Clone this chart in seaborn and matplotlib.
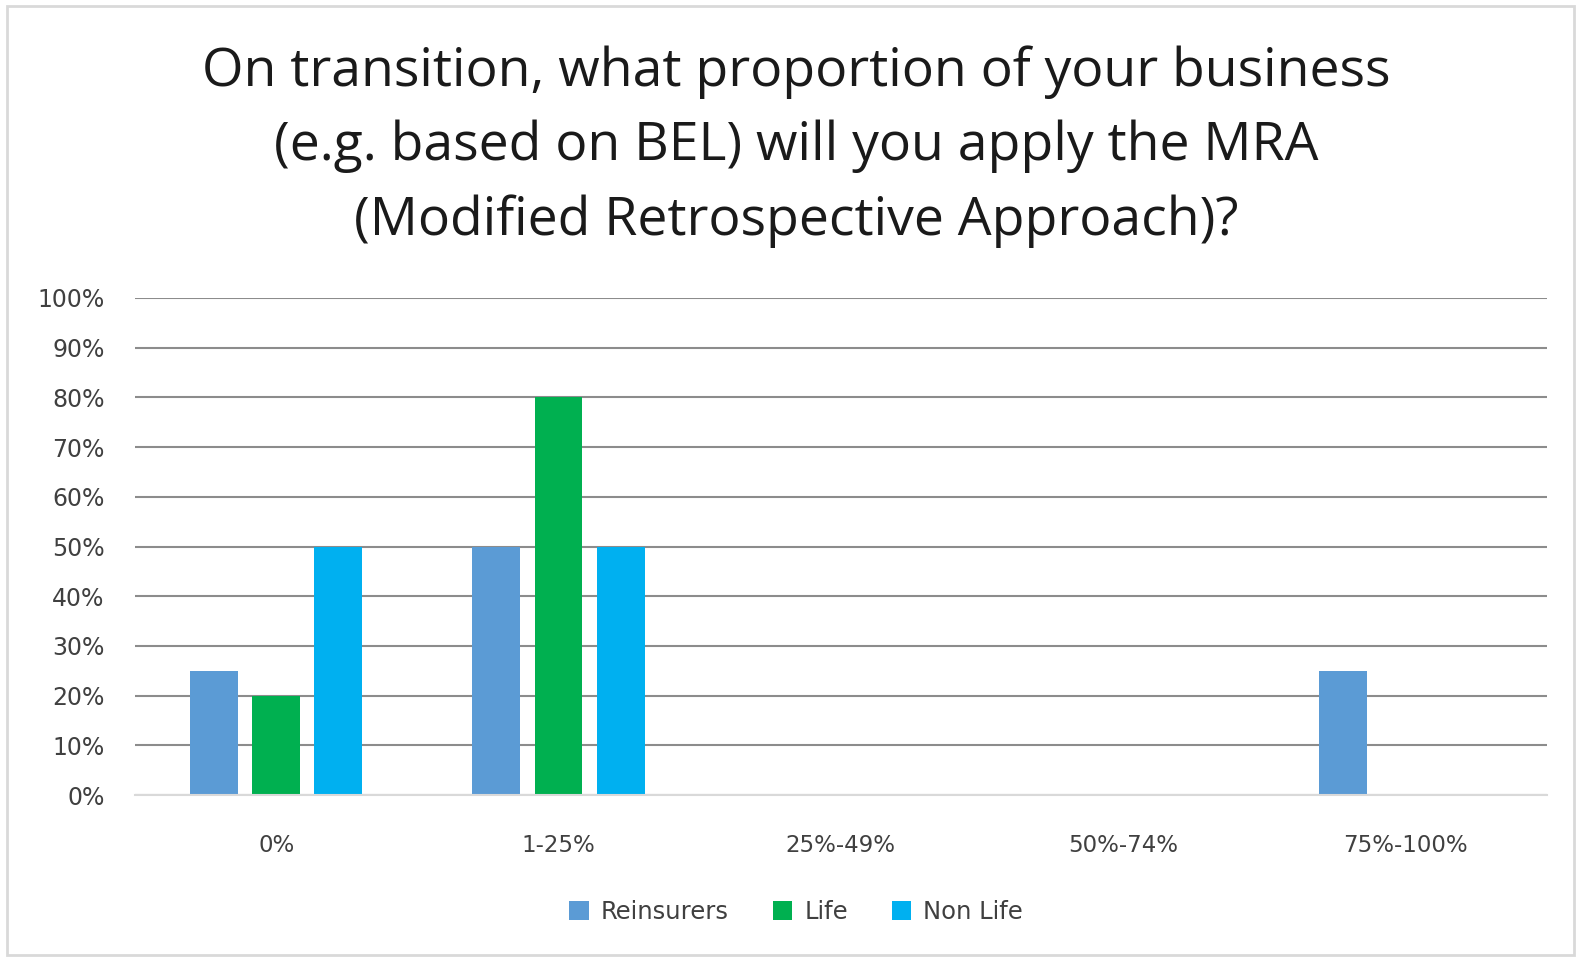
import matplotlib
matplotlib.use("Agg")
import matplotlib.pyplot as plt
import seaborn as sns
import pandas as pd
from matplotlib.patches import Rectangle

categories = ["0%", "1-25%", "25%-49%", "50%-74%", "75%-100%"]
series = ["Reinsurers", "Life", "Non Life"]
reinsurers = [25, 50, 0, 0, 25]
life = [20, 80, 0, 0, 0]
non_life = [50, 50, 0, 0, 0]
colors = ["#5B9BD5", "#00B050", "#00B0F0"]
title = ("On transition, what proportion of your business\n"
         "(e.g. based on BEL) will you apply the MRA\n"
         "(Modified Retrospective Approach)?")

df = pd.DataFrame({
    "category": categories * 3,
    "series": [s for s in series for _ in categories],
    "value": reinsurers + life + non_life,
})

sns.set_theme(style="white")
plt.rcParams["font.family"] = ["Open Sans", "DejaVu Sans"]

fig = plt.figure(figsize=(15.83, 9.58), dpi=100)
ax = fig.add_axes([0.0853, 0.170, 0.8917, 0.519])

sns.barplot(data=df, x="category", y="value", hue="series", order=categories,
            hue_order=series, palette=colors, width=0.66, gap=0.23,
            saturation=1, linewidth=0, ax=ax, legend=True)

ax.set_ylim(0, 100)
ax.set_xlim(-0.5, len(categories) - 0.5)
ax.set_yticks(range(0, 101, 10))
ax.set_yticklabels([f"{v}%" for v in range(0, 101, 10)])
ax.yaxis.grid(True, color="#8C8C8C", linewidth=1.5)
ax.set_axisbelow(True)
for side in ["top", "right", "left"]:
    ax.spines[side].set_visible(False)
ax.spines["bottom"].set_color("#D9D9D9")
ax.spines["bottom"].set_linewidth(1.5)
ax.tick_params(axis="y", length=0, pad=22, labelsize=17, labelcolor="#404040")
ax.tick_params(axis="x", length=0, pad=28, labelsize=16.5, labelcolor="#404040")
for lbl in ax.get_xticklabels() + ax.get_yticklabels():
    lbl.set_family("DejaVu Sans")
ax.set_xlabel("")
ax.set_ylabel("")

handles, labels = ax.get_legend_handles_labels()
ax.get_legend().remove()
fig.legend(handles, labels, loc="center", bbox_to_anchor=(0.503, 0.048), ncol=3,
           frameon=False, prop={"family": "DejaVu Sans", "size": 17.5},
           handlelength=0.8, handleheight=0.8,
           handletextpad=0.5, columnspacing=1.8, labelcolor="#404040")

fig.text(0.503, 0.847, title, ha="center", va="center", fontsize=38.5,
         color="#1A1A1A", linespacing=1.52)

fig.patches.append(Rectangle((0.0045, 0.003), 0.99, 0.991, transform=fig.transFigure,
                             fill=False, edgecolor="#D9D9D9", linewidth=2))

fig.savefig("out.png", dpi=100, facecolor="white")
